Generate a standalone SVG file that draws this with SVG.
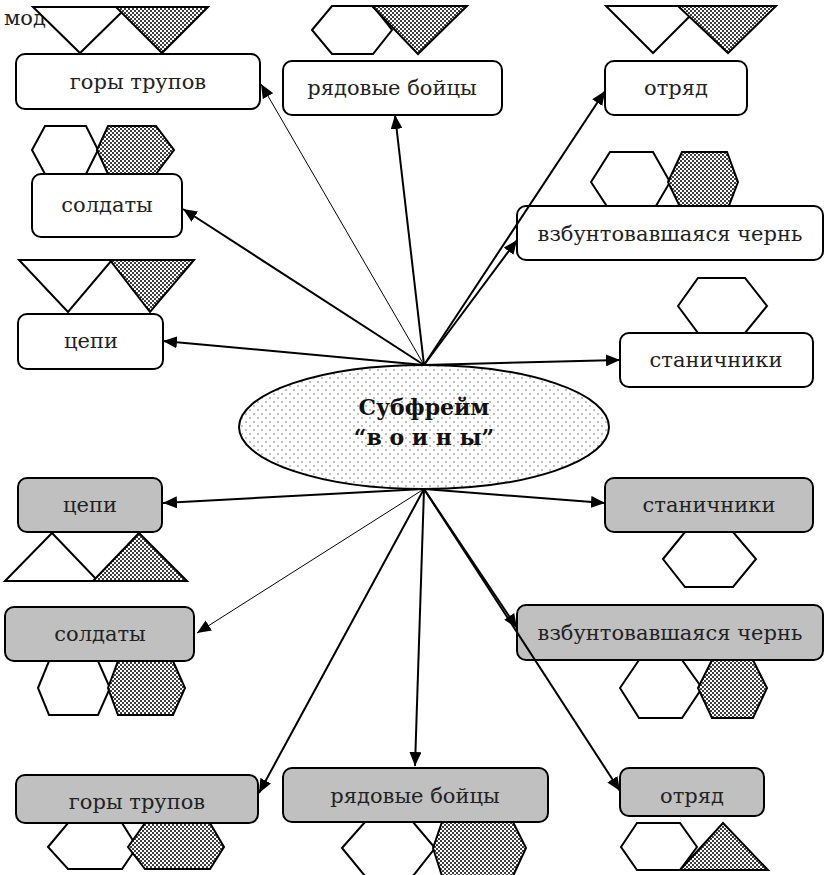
<svg xmlns="http://www.w3.org/2000/svg" width="825" height="875" viewBox="0 0 825 875">
  <defs>
    <!-- dense stipple for the shaded figures -->
    <pattern id="stipple" width="4" height="4" patternUnits="userSpaceOnUse">
      <rect width="4" height="4" fill="#fff"/>
      <circle cx="1" cy="1" r="1" fill="#000"/>
      <circle cx="3" cy="3" r="1" fill="#000"/>
    </pattern>
    <!-- sparse dots for the central frame -->
    <pattern id="sparse" width="8" height="8" patternUnits="userSpaceOnUse">
      <rect width="8" height="8" fill="#fff"/>
      <circle cx="2" cy="2" r="0.7" fill="#555"/>
      <circle cx="6" cy="6" r="0.7" fill="#555"/>
    </pattern>
    <marker id="arr" viewBox="0 0 14 12" refX="14" refY="6" markerWidth="14" markerHeight="12" markerUnits="userSpaceOnUse" orient="auto">
      <path d="M0,0 L14,6 L0,12 z" fill="#000"/>
    </marker>
  </defs>
  <style>
    .box { fill: #fff; stroke: #000; stroke-width: 2; }
    .gbox { fill: #c0c0c0; stroke: #000; stroke-width: 2; }
    .w { fill: #fff; stroke: #000; stroke-width: 2; stroke-linejoin: miter; }
    .d { fill: url(#stipple); stroke: #000; stroke-width: 2; }
    .lbl { font-family: 'DejaVu Serif', serif; font-size: 21px; text-anchor: middle; fill: #222; }
    .title { font-family: 'DejaVu Serif', serif; font-size: 22px; font-weight: bold; text-anchor: middle; fill: #111; }
    .c { stroke: #000; stroke-width: 2; fill: none; marker-end: url(#arr); }
    .c.thin { stroke-width: 1; }
  </style>

  <rect width="825" height="875" fill="#fff"/>

  <!-- stray caption at the top-left corner -->
  <text x="4" y="25" font-family="DejaVu Serif, serif" font-size="21" fill="#222">мод</text>

  <!-- central frame -->
  <g id="frame">
    <ellipse cx="424" cy="427" rx="185" ry="62" fill="url(#sparse)" stroke="#000" stroke-width="2"/>
    <text class="title" x="424" y="415">Субфрейм</text>
    <text class="title" x="424" y="445">“в о и н ы”</text>
  </g>

  <!-- upper group (white) -->
  <g id="top-gory">
    <polygon class="w" points="33,7 127,7 80,53"/>
    <polygon class="d" points="116,7 208,7 162,53"/>
    <rect class="box" x="16" y="54" width="244" height="55" rx="9"/>
    <text class="lbl" x="138" y="89">горы трупов</text>
  </g>
  <g id="top-ryadovye">
    <polygon class="w" points="312,30 332,6 373,6 392,30 373,54 332,54"/>
    <polygon class="d" points="372,6 467,6 418,54"/>
    <rect class="box" x="283" y="61" width="219" height="54" rx="9"/>
    <text class="lbl" x="392" y="95">рядовые бойцы</text>
  </g>
  <g id="top-otryad">
    <polygon class="w" points="606,6 700,6 653,53"/>
    <polygon class="d" points="678,6 776,6 728,53"/>
    <rect class="box" x="605" y="61" width="142" height="54" rx="9"/>
    <text class="lbl" x="676" y="95">отряд</text>
  </g>
  <g id="top-soldaty">
    <polygon class="w" points="32,150 45,126 86,126 98,150 86,174 45,174"/>
    <polygon class="d" points="97,150 108,126 156,126 174,150 156,174 108,174"/>
    <rect class="box" x="32" y="174" width="150" height="63" rx="9"/>
    <text class="lbl" x="107" y="212">солдаты</text>
  </g>
  <g id="top-chern">
    <polygon class="w" points="591,182 610,152 653,152 670,182 653,211 610,211"/>
    <polygon class="d" points="668,182 682,152 727,152 738,182 727,211 682,211"/>
    <rect class="box" x="517" y="206" width="306" height="54" rx="9"/>
    <text class="lbl" x="670" y="241">взбунтовавшаяся чернь</text>
  </g>
  <g id="top-tsepi">
    <polygon class="w" points="19,260 112,260 68,312"/>
    <polygon class="d" points="110,260 194,260 150,312"/>
    <rect class="box" x="18" y="314" width="145" height="55" rx="9"/>
    <text class="lbl" x="91" y="348">цепи</text>
  </g>
  <g id="top-stanichniki">
    <polygon class="w" points="678,306 698,278 745,278 767,306 745,333 698,333"/>
    <rect class="box" x="620" y="333" width="193" height="54" rx="9"/>
    <text class="lbl" x="716" y="367">станичники</text>
  </g>

  <!-- lower group (grey) -->
  <g id="bot-tsepi">
    <rect class="gbox" x="18" y="478" width="144" height="54" rx="9"/>
    <polygon class="w" points="5,581 98,581 52,533"/>
    <polygon class="d" points="93,581 187,581 139,533"/>
    <text class="lbl" x="90" y="512">цепи</text>
  </g>
  <g id="bot-soldaty">
    <rect class="gbox" x="5" y="607" width="189" height="54" rx="9"/>
    <polygon class="w" points="38,688 49,661 98,661 110,688 98,715 49,715"/>
    <polygon class="d" points="108,688 118,661 173,661 185,688 173,715 118,715"/>
    <text class="lbl" x="100" y="641">солдаты</text>
  </g>
  <g id="bot-stanichniki">
    <rect class="gbox" x="605" y="478" width="208" height="54" rx="9"/>
    <polygon class="w" points="663,559 685,532 733,532 756,559 733,587 685,587"/>
    <text class="lbl" x="709" y="512">станичники</text>
  </g>
  <g id="bot-chern">
    <rect class="gbox" x="517" y="605" width="306" height="55" rx="9"/>
    <polygon class="w" points="620,688 639,660 682,660 702,688 682,718 639,718"/>
    <polygon class="d" points="698,688 712,660 753,660 767,688 753,718 712,718"/>
    <text class="lbl" x="670" y="640">взбунтовавшаяся чернь</text>
  </g>
  <g id="bot-otryad">
    <rect class="gbox" x="620" y="768" width="144" height="48" rx="9"/>
    <polygon class="w" points="621,847 637,823 680,823 697,847 680,870 637,870"/>
    <polygon class="d" points="680,870 768,870 723,823"/>
    <text class="lbl" x="692" y="803">отряд</text>
  </g>
  <g id="bot-ryadovye">
    <rect class="gbox" x="283" y="768" width="265" height="54" rx="9"/>
    <polygon class="w" points="342,848 365,822 413,822 435,848 413,876 365,876"/>
    <polygon class="d" points="433,848 442,822 513,822 526,848 513,876 442,876"/>
    <text class="lbl" x="415" y="803">рядовые бойцы</text>
  </g>
  <g id="bot-gory">
    <rect class="gbox" x="16" y="775" width="242" height="48" rx="9"/>
    <polygon class="w" points="48,847 68,823 122,823 137,847 122,869 68,869"/>
    <polygon class="d" points="128,847 145,823 210,823 224,847 210,869 145,869"/>
    <text class="lbl" x="137" y="809">горы трупов</text>
  </g>

  <!-- connectors -->
  <g id="connectors">
    <line class="c thin" x1="424" y1="365" x2="261" y2="84"/>
    <line class="c" x1="424" y1="365" x2="395" y2="115"/>
    <line class="c" x1="424" y1="365" x2="605" y2="91"/>
    <line class="c" x1="424" y1="365" x2="183" y2="209"/>
    <line class="c" x1="424" y1="365" x2="517" y2="240"/>
    <line class="c" x1="424" y1="365" x2="163" y2="341"/>
    <line class="c" x1="424" y1="365" x2="620" y2="360"/>

    <line class="c" x1="424" y1="489" x2="163" y2="503"/>
    <line class="c" x1="424" y1="489" x2="605" y2="503"/>
    <line class="c thin" x1="424" y1="489" x2="197" y2="633"/>
    <line class="c" x1="424" y1="489" x2="517" y2="628"/>
    <line class="c" x1="424" y1="489" x2="259" y2="793"/>
    <line class="c" x1="424" y1="489" x2="415" y2="766"/>
    <line class="c" x1="424" y1="489" x2="620" y2="791"/>
  </g>
</svg>
